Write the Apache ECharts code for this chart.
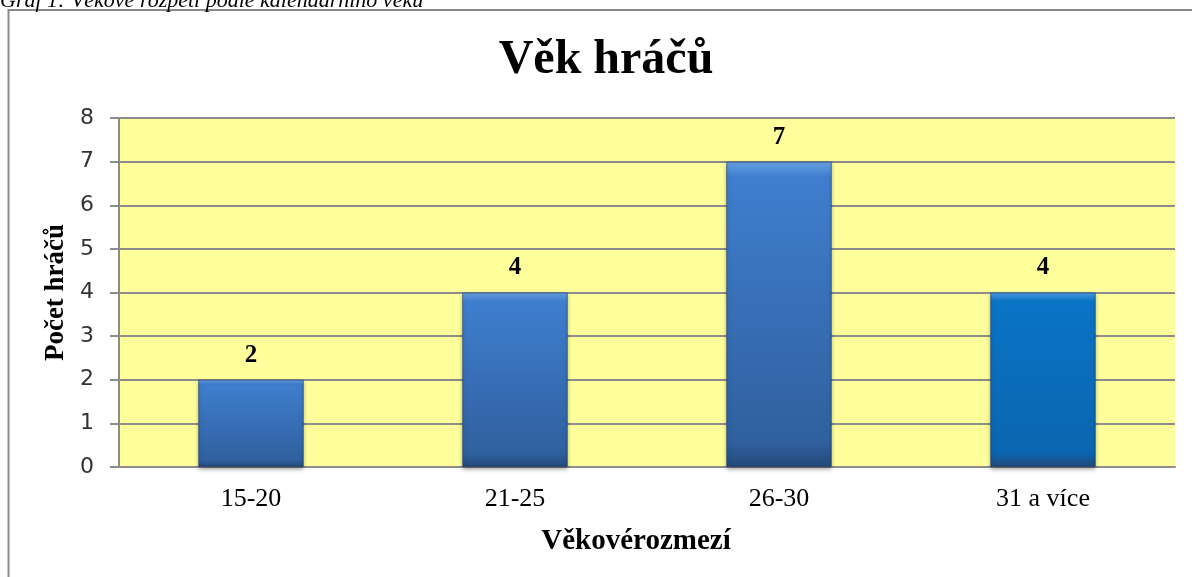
<!DOCTYPE html>
<html>
<head>
<meta charset="utf-8">
<script src="https://cdn.jsdelivr.net/npm/echarts@6/dist/echarts.min.js"></script>
<style>
  html, body { margin: 0; padding: 0; background: #ffffff; }
  #chart { width: 1192px; height: 577px; }
</style>
</head>
<body>
<div id="chart"></div>
<script>
// data
const categories = ['15-20', '21-25', '26-30', '31 a více']
const players = [2, 4, 7, 4]
const yTicks = { min: 0, max: 8, interval: 1 }

const serif = '"Liberation Serif", "Times New Roman", serif'

// blue bars with a bevel-ish gradient, the last one is a brighter blue
function barStyle (top, mid, bottom) {
  return {
    color: new echarts.graphic.LinearGradient(0, 0, 0, 1, [
      { offset: 0, color: top },
      { offset: 0.05, color: mid },
      { offset: 0.92, color: bottom },
      { offset: 1, color: '#24497a' }
    ]),
    borderColor: 'rgba(30,60,110,0.6)',
    borderWidth: 1,
    shadowBlur: 4,
    shadowOffsetY: 2,
    shadowColor: 'rgba(0,0,0,0.35)'
  }
}

const barData = players.map((v, i) => ({
  value: v,
  itemStyle: i === 3
    ? barStyle('#4fa0e6', '#0a74c6', '#0a66b0')
    : barStyle('#6aa4e6', '#3f7ecf', '#30609f')
}))

const chart = echarts.init(document.getElementById('chart'))
chart.setOption({
  animation: false,
  backgroundColor: '#ffffff',
  title: {
    text: 'Věk hráčů',
    left: 601,
    top: 32,
    textAlign: 'center',
    textStyle: { fontFamily: serif, fontWeight: 'bold', fontSize: 48, color: '#000' }
  },
  graphic: [
    {
      type: 'rect',
      shape: { x: 8.5, y: 10, width: 1300, height: 700 },
      style: { fill: null, stroke: '#8a8a8a', lineWidth: 2 },
      z: -1
    },
    {
      type: 'text',
      left: 0,
      top: -10,
      style: {
        text: 'Graf 1: Věkové rozpětí podle kalendářního věku',
        fontFamily: serif,
        fontStyle: 'italic',
        fontSize: 22,
        fill: '#000'
      }
    }
  ],
  grid: {
    left: 119,
    right: 17,
    top: 118,
    bottom: 110,
    show: true,
    backgroundColor: '#ffff9c',
    borderWidth: 0
  },
  xAxis: {
    type: 'category',
    data: categories,
    name: 'Věkovérozmezí',
    nameLocation: 'middle',
    nameGap: 60,
    nameTextStyle: {
      fontFamily: serif, fontWeight: 'bold', fontSize: 29, color: '#000',
      padding: [0, 22, 0, 0]
    },
    axisLine: { show: true, lineStyle: { color: '#8c8c8c', width: 2 } },
    axisTick: { show: false },
    axisLabel: { fontFamily: serif, fontSize: 26, color: '#000', margin: 19 }
  },
  yAxis: {
    type: 'value',
    min: yTicks.min,
    max: yTicks.max,
    interval: yTicks.interval,
    name: 'Počet hráčů',
    nameLocation: 'middle',
    nameRotate: 90,
    nameGap: 47,
    nameTextStyle: { fontFamily: serif, fontWeight: 'bold', fontSize: 27, color: '#000' },
    axisLine: { show: true, lineStyle: { color: '#8c8c8c', width: 2 } },
    axisTick: { show: true, length: 9, lineStyle: { color: '#8c8c8c', width: 2 } },
    axisLabel: { fontFamily: '"DejaVu Sans", sans-serif', fontSize: 22, color: '#333', margin: 25 },
    splitLine: { show: true, lineStyle: { color: '#8c8c8c', width: 2 } }
  },
  series: [
    {
      type: 'bar',
      data: barData,
      barWidth: '40%',
      label: {
        show: true,
        position: 'top',
        distance: 12,
        fontFamily: serif,
        fontWeight: 'bold',
        fontSize: 25,
        color: '#000'
      }
    }
  ]
})
</script>
</body>
</html>
